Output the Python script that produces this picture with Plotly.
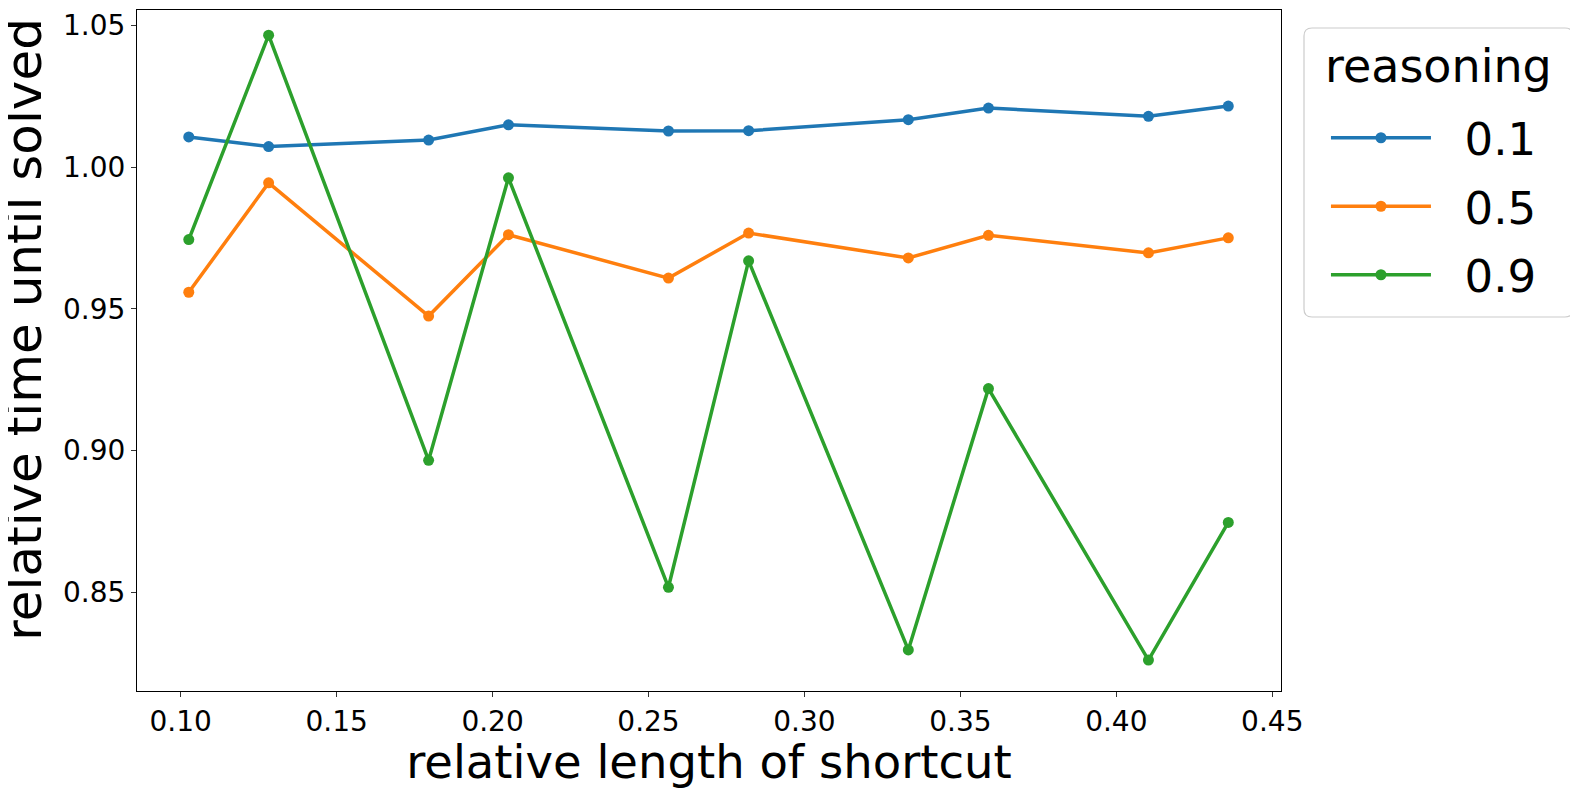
import plotly.graph_objects as go

# relative length of shortcut (x) and relative time until solved per reasoning level
shortcut_len = [0.1026, 0.1282, 0.1795, 0.2051, 0.2564, 0.2821, 0.3333, 0.3590, 0.4103, 0.4359]
time_r01 = [1.0107, 1.0073, 1.0096, 1.0150, 1.0128, 1.0129, 1.0168, 1.0209, 1.0180, 1.0216]
time_r05 = [0.9559, 0.9945, 0.9475, 0.9762, 0.9609, 0.9768, 0.9680, 0.9760, 0.9698, 0.9751]
time_r09 = [0.9745, 1.0466, 0.8966, 0.9963, 0.8518, 0.9670, 0.8297, 0.9219, 0.8261, 0.8747]

series_names = ["0.1", "0.5", "0.9"]
series_colors = ["#1f77b4", "#ff7f0e", "#2ca02c"]
x_ticks = [0.10, 0.15, 0.20, 0.25, 0.30, 0.35, 0.40, 0.45]
y_ticks = [0.85, 0.90, 0.95, 1.00, 1.05]

FONT = "DejaVu Sans"

fig = go.Figure()
for name, ys, color in zip(series_names, [time_r01, time_r05, time_r09], series_colors):
    fig.add_trace(go.Scatter(
        x=shortcut_len, y=ys, name="\u00a0\u00a0" + name, legendgroup=name,
        mode="lines+markers",
        line=dict(color=color, width=3.5),
        marker=dict(color=color, size=11),
    ))

axis_common = dict(
    showgrid=False, zeroline=False,
    showline=True, linecolor="black", linewidth=1.2, mirror=True,
    ticks="outside", ticklen=5, tickwidth=1.2, tickcolor="#333333",
    tickfont=dict(family=FONT, size=28, color="black"),
)

# rounded legend frame (paper coords), drawn as a shape so the title can sit apart
bx0, bx1, by0, by1 = 1.0201, 1.2552, 0.9736, 0.5492
rx, ry = 0.007, 0.0118
frame = (f"M {bx0+rx},{by0} L {bx1-rx},{by0} Q {bx1},{by0} {bx1},{by0-ry} "
         f"L {bx1},{by1+ry} Q {bx1},{by1} {bx1-rx},{by1} "
         f"L {bx0+rx},{by1} Q {bx0},{by1} {bx0},{by1+ry} "
         f"L {bx0},{by0-ry} Q {bx0},{by0} {bx0+rx},{by0} Z")

# the page body has an 8px margin, so the figure is a bit smaller than the window
fig.update_layout(
    width=1570, height=781,
    margin=dict(l=129, r=297, t=2, b=98),
    paper_bgcolor="white", plot_bgcolor="white",
    font=dict(family=FONT, color="black"),
    xaxis=dict(
        range=[0.0860, 0.4528], tickvals=x_ticks,
        ticktext=[f"{v:.2f}" for v in x_ticks],
        title=dict(text="relative length of shortcut", font=dict(family=FONT, size=46.5), standoff=5),
        **axis_common,
    ),
    yaxis=dict(
        range=[0.8152, 1.0555], tickvals=y_ticks,
        ticktext=[f"{v:.2f}" for v in y_ticks],
        **axis_common,
    ),
    legend=dict(
        font=dict(family=FONT, size=45),
        x=1.0393, y=0.8649, xanchor="left", yanchor="top",
        bgcolor="rgba(0,0,0,0)", borderwidth=0,
        itemwidth=100, tracegroupgap=7,
    ),
    shapes=[dict(
        type="path", path=frame, xref="paper", yref="paper",
        line=dict(color="#cccccc", width=1.2), fillcolor="white", layer="below",
    )],
    annotations=[
        dict(
            text="relative time until solved", textangle=-90,
            xref="paper", yref="paper", x=-0.099, y=0.5316,
            xanchor="center", yanchor="middle", showarrow=False,
            font=dict(family=FONT, size=50, color="black"),
        ),
        dict(
            text="reasoning", xref="paper", yref="paper",
            x=(bx0 + bx1) / 2, y=0.9185, xanchor="center", yanchor="middle",
            showarrow=False, font=dict(family=FONT, size=46, color="black"),
        ),
    ],
)

fig.write_html("out.html")
